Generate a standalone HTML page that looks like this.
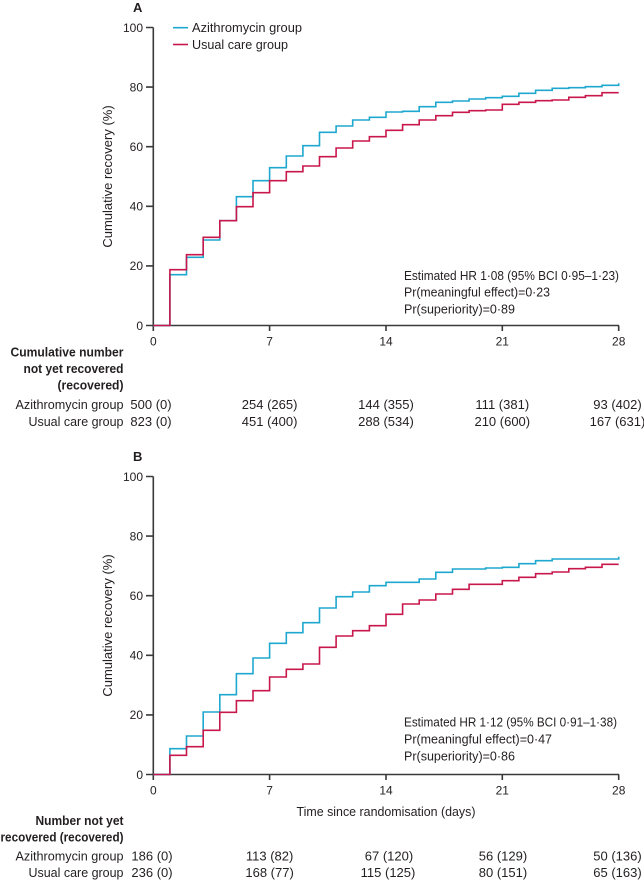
<!DOCTYPE html>
<html>
<head>
<meta charset="utf-8">
<style>
  html, body { margin: 0; padding: 0; background: #ffffff; }
  svg { display: block; }
  text { font-family: "Liberation Sans", "DejaVu Sans", sans-serif; fill: #231f20; }
  .tick { font-size: 12px; }
  .lab { font-size: 13px; }
  .bold { font-size: 13px; font-weight: bold; }
  .ax { stroke: #3a3a3a; stroke-width: 1.6; fill: none; }
  .blue { stroke: #1fa8cf; stroke-width: 1.6; fill: none; }
  .red { stroke: #c8174b; stroke-width: 1.6; fill: none; }
</style>
</head>
<body>
<svg width="644" height="880" viewBox="0 0 644 880" xmlns="http://www.w3.org/2000/svg">

  <!-- ================= PANEL A ================= -->
  <g>
    <text x="133" y="12" class="bold">A</text>

    <!-- axes -->
    <path class="ax" d="M153.3,27.5 V325.5 H619"/>
    <path class="ax" d="M146,27.5 H153.3 M146,87.1 H153.3 M146,146.7 H153.3 M146,206.3 H153.3 M146,265.9 H153.3 M146,325.5 H153.3"/>
    <path class="ax" d="M153.3,325.5 V331 M269.6,325.5 V331 M386,325.5 V331 M502.3,325.5 V331 M618.7,325.5 V331"/>

    <!-- y tick labels -->
    <text class="tick" x="143" y="31.8" text-anchor="end">100</text>
    <text class="tick" x="143" y="91.4" text-anchor="end">80</text>
    <text class="tick" x="143" y="151" text-anchor="end">60</text>
    <text class="tick" x="143" y="210.6" text-anchor="end">40</text>
    <text class="tick" x="143" y="270.2" text-anchor="end">20</text>
    <text class="tick" x="143" y="329.8" text-anchor="end">0</text>

    <!-- x tick labels -->
    <text class="tick" x="153.3" y="345.5" text-anchor="middle">0</text>
    <text class="tick" x="269.6" y="345.5" text-anchor="middle">7</text>
    <text class="tick" x="386" y="345.5" text-anchor="middle">14</text>
    <text class="tick" x="502.3" y="345.5" text-anchor="middle">21</text>
    <text class="tick" x="618.7" y="345.5" text-anchor="middle">28</text>

    <!-- y axis label -->
    <text class="lab" transform="translate(112,176.5) rotate(-90)" text-anchor="middle">Cumulative recovery (%)</text>

    <!-- legend -->
    <line x1="173" y1="27.7" x2="188" y2="27.7" class="blue"/>
    <text class="lab" x="192" y="32.2" textLength="110" lengthAdjust="spacingAndGlyphs">Azithromycin group</text>
    <line x1="173" y1="44.5" x2="188" y2="44.5" class="red"/>
    <text class="lab" x="192" y="49" textLength="96" lengthAdjust="spacingAndGlyphs">Usual care group</text>

    <!-- curves -->
    <path class="blue" d="M153.3,325.5 H169.9 V274.7 H186.5 V257.3 H203.2 V240 H219.8 V220.7 H236.4 V196.7 H253 V180.7 H269.6 V167.7 H286.3 V156 H302.9 V145.7 H319.5 V132.3 H336.1 V126 H352.7 V120 H369.4 V117.3 H386 V112 H402.6 V111.3 H419.2 V106.7 H435.8 V102.3 H452.5 V101 H469.1 V99 H485.7 V97.7 H502.3 V96.3 H518.9 V93.3 H535.6 V90.3 H552.2 V88.3 H568.8 V87.7 H585.4 V86.7 H602 V85.3 H618.7 V83.3"/>
    <path class="red" d="M153.3,325.5 H169.9 V269.7 H186.5 V254.7 H203.2 V237.3 H219.8 V220.7 H236.4 V206.7 H253 V192.7 H269.6 V180.7 H286.3 V171.7 H302.9 V166 H319.5 V156.7 H336.1 V148 H352.7 V141 H369.4 V136.7 H386 V130.3 H402.6 V124.7 H419.2 V120 H435.8 V115.7 H452.5 V112.3 H469.1 V110.7 H485.7 V110 H502.3 V104.3 H518.9 V102.3 H535.6 V100.7 H552.2 V100 H568.8 V97.3 H585.4 V95.7 H602 V92.7 H618.7"/>

    <!-- annotation -->
    <text class="lab" x="404" y="280" textLength="215" lengthAdjust="spacingAndGlyphs">Estimated HR 1·08 (95% BCI 0·95–1·23)</text>
    <text class="lab" x="404" y="296.7" textLength="146" lengthAdjust="spacingAndGlyphs">Pr(meaningful effect)=0·23</text>
    <text class="lab" x="404" y="313.3" textLength="111" lengthAdjust="spacingAndGlyphs">Pr(superiority)=0·89</text>

    <!-- risk table -->
    <text class="bold" x="123.5" y="356.5" text-anchor="end" textLength="113" lengthAdjust="spacingAndGlyphs">Cumulative number</text>
    <text class="bold" x="123.5" y="373" text-anchor="end" textLength="100" lengthAdjust="spacingAndGlyphs">not yet recovered</text>
    <text class="bold" x="123.5" y="389.5" text-anchor="end" textLength="66" lengthAdjust="spacingAndGlyphs">(recovered)</text>

    <text class="lab" x="123.5" y="409" text-anchor="end" textLength="108" lengthAdjust="spacingAndGlyphs">Azithromycin group</text>
    <text class="lab" x="123.5" y="426" text-anchor="end" textLength="95" lengthAdjust="spacingAndGlyphs">Usual care group</text>

    <text class="lab" x="151" y="409" text-anchor="middle">500 (0)</text>
    <text class="lab" x="269.6" y="409" text-anchor="middle">254 (265)</text>
    <text class="lab" x="386" y="409" text-anchor="middle">144 (355)</text>
    <text class="lab" x="502.3" y="409" text-anchor="middle">111 (381)</text>
    <text class="lab" x="617.5" y="409" text-anchor="middle">93 (402)</text>

    <text class="lab" x="151" y="426" text-anchor="middle">823 (0)</text>
    <text class="lab" x="269.6" y="426" text-anchor="middle">451 (400)</text>
    <text class="lab" x="386" y="426" text-anchor="middle">288 (534)</text>
    <text class="lab" x="502.3" y="426" text-anchor="middle">210 (600)</text>
    <text class="lab" x="617.5" y="426" text-anchor="middle">167 (631)</text>
  </g>

  <!-- ================= PANEL B ================= -->
  <g>
    <text x="133" y="461" class="bold">B</text>

    <g transform="translate(0,449)">
      <path class="ax" d="M153.3,27.5 V325.5 H619"/>
      <path class="ax" d="M146,27.5 H153.3 M146,87.1 H153.3 M146,146.7 H153.3 M146,206.3 H153.3 M146,265.9 H153.3 M146,325.5 H153.3"/>
      <path class="ax" d="M153.3,325.5 V331 M269.6,325.5 V331 M386,325.5 V331 M502.3,325.5 V331 M618.7,325.5 V331"/>

      <text class="tick" x="143" y="31.8" text-anchor="end">100</text>
      <text class="tick" x="143" y="91.4" text-anchor="end">80</text>
      <text class="tick" x="143" y="151" text-anchor="end">60</text>
      <text class="tick" x="143" y="210.6" text-anchor="end">40</text>
      <text class="tick" x="143" y="270.2" text-anchor="end">20</text>
      <text class="tick" x="143" y="329.8" text-anchor="end">0</text>

      <text class="tick" x="153.3" y="345.5" text-anchor="middle">0</text>
      <text class="tick" x="269.6" y="345.5" text-anchor="middle">7</text>
      <text class="tick" x="386" y="345.5" text-anchor="middle">14</text>
      <text class="tick" x="502.3" y="345.5" text-anchor="middle">21</text>
      <text class="tick" x="618.7" y="345.5" text-anchor="middle">28</text>

      <text class="lab" transform="translate(112,176.5) rotate(-90)" text-anchor="middle">Cumulative recovery (%)</text>
    </g>

    <!-- curves -->
    <path class="blue" d="M153.3,774.5 H169.9 V748.7 H186.5 V736 H203.2 V712 H219.8 V694.7 H236.4 V673.7 H253 V658 H269.6 V643.3 H286.3 V632.7 H302.9 V622.7 H319.5 V608 H336.1 V596.7 H352.7 V592 H369.4 V585.7 H386 V582.3 H419.2 V579 H435.8 V572.3 H452.5 V569 H485.7 V568 H502.3 V567.3 H518.9 V563.7 H535.6 V560.7 H552.2 V559 H618.7 V556.7"/>
    <path class="red" d="M153.3,774.5 H169.9 V755.3 H186.5 V746.7 H203.2 V730.3 H219.8 V712.3 H236.4 V700.7 H253 V690.7 H269.6 V677 H286.3 V669.3 H302.9 V664 H319.5 V647.3 H336.1 V636 H352.7 V630.7 H369.4 V625.7 H386 V614.3 H402.6 V604 H419.2 V600 H435.8 V594 H452.5 V589.3 H469.1 V584.3 H502.3 V580.7 H518.9 V577.3 H535.6 V573.7 H552.2 V572 H568.8 V568.7 H585.4 V567.3 H602 V564.3 H618.7"/>

    <!-- annotation -->
    <text class="lab" x="404" y="726.7" textLength="213" lengthAdjust="spacingAndGlyphs">Estimated HR 1·12 (95% BCI 0·91–1·38)</text>
    <text class="lab" x="404" y="743.5" textLength="148" lengthAdjust="spacingAndGlyphs">Pr(meaningful effect)=0·47</text>
    <text class="lab" x="404" y="760.3" textLength="111" lengthAdjust="spacingAndGlyphs">Pr(superiority)=0·86</text>

    <!-- x axis title -->
    <text class="lab" x="386" y="816" text-anchor="middle" textLength="179" lengthAdjust="spacingAndGlyphs">Time since randomisation (days)</text>

    <!-- risk table -->
    <text class="bold" x="123.5" y="825" text-anchor="end" textLength="88" lengthAdjust="spacingAndGlyphs">Number not yet</text>
    <text class="bold" x="123.5" y="841.5" text-anchor="end" textLength="123" lengthAdjust="spacingAndGlyphs">recovered (recovered)</text>

    <text class="lab" x="123.5" y="860.5" text-anchor="end" textLength="108" lengthAdjust="spacingAndGlyphs">Azithromycin group</text>
    <text class="lab" x="123.5" y="877" text-anchor="end" textLength="95" lengthAdjust="spacingAndGlyphs">Usual care group</text>

    <text class="lab" x="152" y="860.5" text-anchor="middle">186 (0)</text>
    <text class="lab" x="269.6" y="860.5" text-anchor="middle">113 (82)</text>
    <text class="lab" x="389" y="860.5" text-anchor="middle">67 (120)</text>
    <text class="lab" x="503" y="860.5" text-anchor="middle">56 (129)</text>
    <text class="lab" x="617.5" y="860.5" text-anchor="middle">50 (136)</text>

    <text class="lab" x="152" y="877" text-anchor="middle">236 (0)</text>
    <text class="lab" x="269.6" y="877" text-anchor="middle">168 (77)</text>
    <text class="lab" x="388" y="877" text-anchor="middle">115 (125)</text>
    <text class="lab" x="503" y="877" text-anchor="middle">80 (151)</text>
    <text class="lab" x="617.5" y="877" text-anchor="middle">65 (163)</text>
  </g>
</svg>
</body>
</html>
